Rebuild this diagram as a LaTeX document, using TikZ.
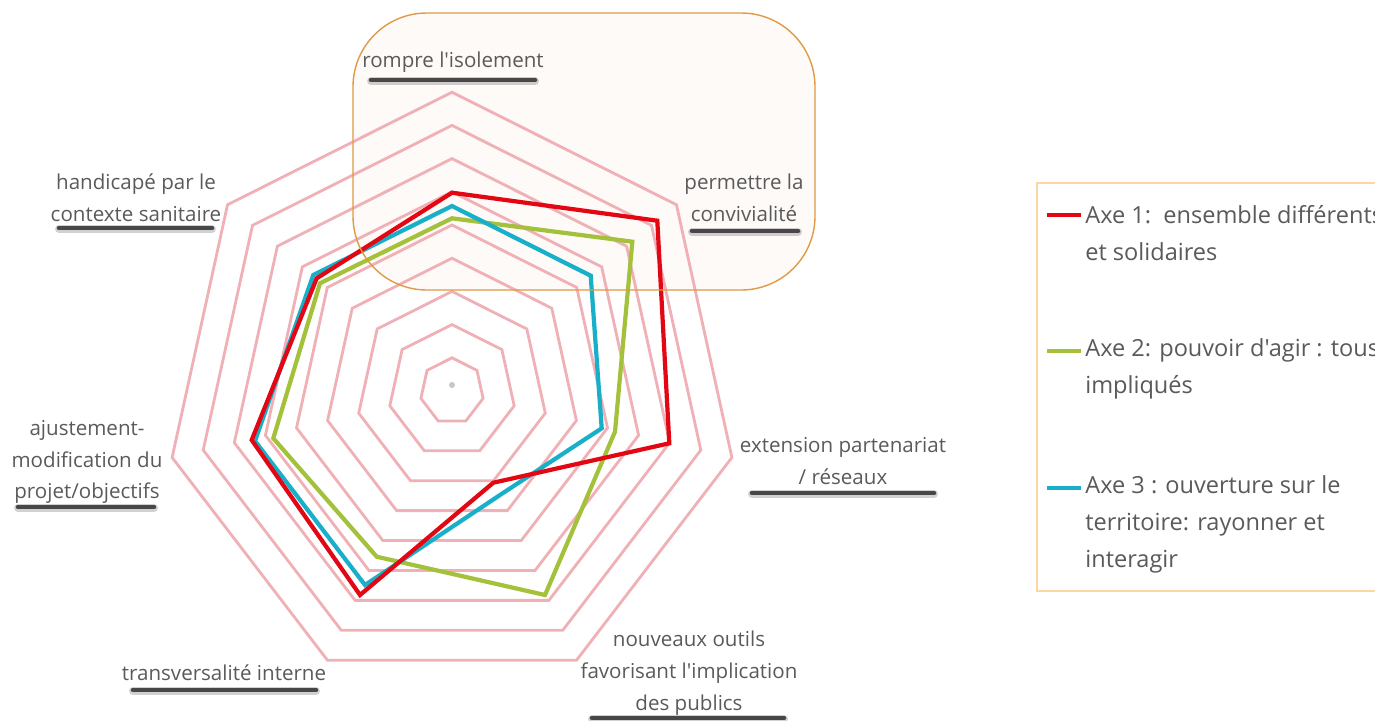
\documentclass[tikz,border=0pt]{standalone}
\usepackage{fontspec}
\setmainfont{Open Sans}[Ligatures=TeXOff]
\definecolor{ringpink}{HTML}{EFB0B6}
\definecolor{serred}{HTML}{E30613}
\definecolor{sergreen}{HTML}{A3C13A}
\definecolor{serblue}{HTML}{1AAFC9}
\definecolor{txtgray}{HTML}{5A5A5A}
\definecolor{boxfill}{HTML}{FEFAF8}
\definecolor{boxdraw}{HTML}{DE9A45}
\definecolor{legdraw}{HTML}{FAD7A4}
\begin{document}
\begin{tikzpicture}[x=0.02cm,y=-0.02cm,
  ring/.style={draw=ringpink, line width=1.6pt, line join=miter},
  series/.style={line width=2.4pt, line join=miter},
  lab/.style={text=txtgray, font=\fontsize{11.7}{18.1}\selectfont, align=center, inner sep=0pt},
  legtxt/.style={text=txtgray, font=\fontsize{13.4}{21}\selectfont, align=left, inner sep=0pt, anchor=west},
  shadowbar/.style={line width=2.6pt, draw=black!72, line cap=round},
  shadowsoft/.style={line width=4.5pt, draw=black, opacity=0.18, line cap=round}]
\useasboundingbox (0,0) rectangle (1375,720);
\clip (0,0) rectangle (1375,720);
% highlight box
\fill[boxfill, rounded corners=42] (353,13) rectangle (815,290);
% rings
\foreach \k in {1,...,9}{
  \draw[ring] ({452+31.9*\k*cos(90)},{391-33.2*\k*sin(90)})
    \foreach \i in {1,...,6}{ -- ({452+31.9*\k*cos(90-360/7*\i)},{391-33.2*\k*sin(90-360/7*\i)}) } -- cycle;
}
\fill[gray!45] (452,385) circle (3);
% series
\draw[series, draw=sergreen] (452,218.3) -- (632.3,241.7) -- (615,431.7) -- (545,595) -- (376.7,556.7) -- (273.3,438.3) -- (320,283.3) -- cycle;
\draw[series, draw=serblue] (452,206) -- (590.7,275.7) -- (601.7,428.3) -- (500,495) -- (365,585) -- (255,441) -- (313.3,275) -- cycle;
\draw[series, draw=serred] (452,192.7) -- (657.3,220.7) -- (669.3,443.3) -- (493.3,482.7) -- (360,595) -- (251.7,440) -- (316.7,278.3) -- cycle;
% box border
\draw[boxdraw, line width=0.8pt, rounded corners=42] (353,13) rectangle (815,290);
% axis labels
\node[lab] (l0) at (453,62) {rompre l'isolement};
\node[lab] (l1) at (744,198) {permettre la\\convivialité};
\node[lab] (l2) at (843,461) {extension partenariat\\/ réseaux};
\node[lab] (l3) at (689,673) {nouveaux outils\\favorisant l'implication\\des publics};
\node[lab] (l4) at (224,673) {transversalité interne};
\node[lab] (l5) at (87,462) {ajustement-\\modification du\\projet/objectifs};
\node[lab] (l6) at (136,198) {handicapé par le\\contexte sanitaire};
% shadows under labels
\foreach \a/\b/\y in {371/535/80, 692/798/231, 752/934/493, 592/784/718, 133/316/690, 18/154/507, 59/212/228}{
  \draw[shadowsoft] (\a,\y+1) -- (\b,\y+1);
  \draw[shadowbar] (\a,\y) -- (\b,\y);
}
% legend
\draw[legdraw, line width=0.8pt, fill=white] (1037,183) rectangle (1400,591);
\draw[serred, line width=2.2pt] (1047,215) -- (1081,215);
\draw[sergreen, line width=2.2pt] (1047,351) -- (1081,351);
\draw[serblue, line width=2.2pt] (1047,488) -- (1081,488);
\node[legtxt] (g1) at (1085,233) {Axe 1:\ \ ensemble différents\\et solidaires};
\node[legtxt] (g2) at (1085,369) {Axe 2: pouvoir d'agir : tous\\impliqués};
\node[legtxt] (g3) at (1085,524) {Axe 3 : ouverture sur le\\territoire: rayonner et\\interagir};
\end{tikzpicture}
\end{document}
